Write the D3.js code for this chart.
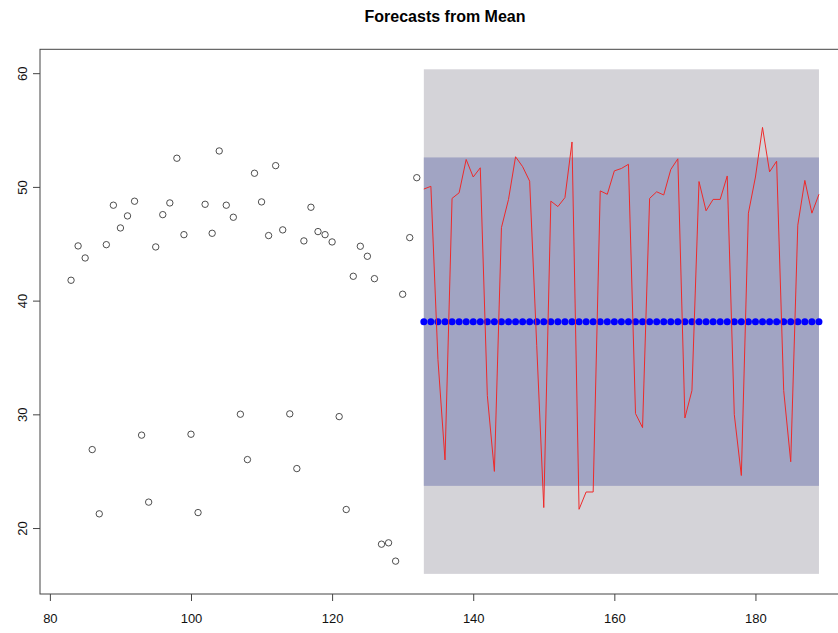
<!DOCTYPE html>
<html>
<head>
<meta charset="utf-8">
<title>Forecasts from Mean</title>
<script src="https://cdn.jsdelivr.net/npm/d3@7"></script>
<style>
  body { margin: 0; background: #ffffff; }
  svg { display: block; font-family: "Liberation Sans", Arial, Helvetica, sans-serif; }
</style>
</head>
<body>
<div id="chart"></div>
<script>
// ==========================================
// 1. DATA
// ==========================================

const title = "Forecasts from Mean";

// observed series (open circles), t = 83 ... 132
const obsStart = 83;
const obsValues = [
    41.79, 44.81, 43.75, 26.90, 21.25, 44.92, 48.39, 46.39, 47.45, 48.74,
    28.17, 22.28, 44.72, 47.56, 48.59, 52.52, 45.80, 28.25, 21.36, 48.47,
    45.92, 53.16, 48.39, 47.33, 30.01, 26.02, 51.20, 48.68, 45.72, 51.87,
    46.22, 30.04, 25.23, 45.25, 48.21, 46.07, 45.80, 45.16, 29.80, 21.63,
    42.14, 44.78, 43.90, 41.93, 18.58, 18.70, 17.09, 40.56, 45.54, 50.81
];

// test data (red line), t = 133 ... 189
const testStart = 133;
const testValues = [
    49.81, 50.05, 34.82, 25.99, 48.99, 49.48, 52.41, 50.87, 51.68, 31.65,
    24.98, 46.42, 48.90, 52.65, 51.78, 50.50, 36.04, 21.80, 48.75, 48.27,
    49.06, 53.95, 21.65, 23.17, 23.17, 49.65, 49.35, 51.41, 51.62, 51.99,
    30.07, 28.83, 48.99, 49.57, 49.29, 51.53, 52.47, 29.68, 32.10, 50.47,
    47.90, 48.90, 48.90, 50.96, 29.98, 24.62, 47.69, 50.87, 55.23, 51.32,
    52.26, 32.10, 25.83, 46.63, 50.57, 47.69, 49.35
];

// mean method: the point forecast is the same value over the whole horizon
const fcMean = 38.15;
const lo80 = 23.71, hi80 = 52.59;
const lo95 = 15.97, hi95 = 60.34;

const xTicks = [80, 100, 120, 140, 160, 180];
const yTicks = [20, 30, 40, 50, 60];


// ==========================================
// 2. SETUP
// ==========================================

const width = 838;
const height = 633;

// plot region (the right edge of the box falls outside the picture)
const box = { left: 40, top: 49.3, right: 850, bottom: 594 };

const obs = obsValues.map((v, i) => ({ t: obsStart + i, v: v }));
const test = testValues.map((v, i) => ({ t: testStart + i, v: v }));
const horizon = test.map(d => d.t);
const fc = horizon.map(t => ({ t: t, v: fcMean }));

const x = d3.scaleLinear().domain([78.6, 193.4]).range([box.left, box.right]);
const y = d3.scaleLinear().domain([14.2, 62.1]).range([box.bottom, box.top]);

const svg = d3.select("#chart").append("svg")
    .attr("width", width).attr("height", height);


// ==========================================
// 3. PREDICTION INTERVALS
// ==========================================

const t0 = d3.min(horizon), t1 = d3.max(horizon);

// 95% (grey)
svg.append("rect")
    .attr("x", x(t0)).attr("width", x(t1) - x(t0))
    .attr("y", y(hi95)).attr("height", y(lo95) - y(hi95))
    .attr("fill", "#d4d3d8");

// 80% (blue-grey)
svg.append("rect")
    .attr("x", x(t0)).attr("width", x(t1) - x(t0))
    .attr("y", y(hi80)).attr("height", y(lo80) - y(hi80))
    .attr("fill", "#a1a4c3");


// ==========================================
// 4. SERIES
// ==========================================

// point forecasts (filled blue dots)
svg.append("g").selectAll("circle")
    .data(fc).enter().append("circle")
    .attr("cx", d => x(d.t)).attr("cy", d => y(d.v))
    .attr("r", 3.5)
    .attr("fill", "#0000ff");

// test data (red line)
const line = d3.line().x(d => x(d.t)).y(d => y(d.v));
svg.append("path")
    .datum(test)
    .attr("d", line)
    .attr("fill", "none")
    .attr("stroke", "#ee2a2a")
    .attr("stroke-width", 1);

// observed series (open circles)
svg.append("g").selectAll("circle")
    .data(obs).enter().append("circle")
    .attr("cx", d => x(d.t)).attr("cy", d => y(d.v))
    .attr("r", 3.2)
    .attr("fill", "none")
    .attr("stroke", "#3a3a3a")
    .attr("stroke-width", 0.9);


// ==========================================
// 5. AXES, BOX, TITLE
// ==========================================

const xAxis = svg.append("g")
    .attr("transform", `translate(0,${box.bottom})`)
    .call(d3.axisBottom(x).tickValues(xTicks).tickFormat(d3.format("d"))
        .tickSize(7).tickSizeOuter(0).tickPadding(13));
xAxis.select(".domain").remove();
xAxis.selectAll("line").attr("stroke", "#444");
xAxis.selectAll("text")
    .style("font-size", "13px")
    .style("font-family", "'Liberation Sans', Arial, sans-serif")
    .attr("fill", "#111");

const yAxis = svg.append("g")
    .attr("transform", `translate(${box.left},0)`)
    .call(d3.axisLeft(y).tickValues(yTicks).tickFormat(d3.format("d"))
        .tickSize(7).tickSizeOuter(0));
yAxis.select(".domain").remove();
yAxis.selectAll("line").attr("stroke", "#444");
// R style: labels turned parallel to the axis
yAxis.selectAll("text")
    .attr("x", null).attr("dy", null)
    .attr("transform", "translate(-13.5,0) rotate(-90)")
    .attr("text-anchor", "middle")
    .style("font-size", "13px")
    .style("font-family", "'Liberation Sans', Arial, sans-serif")
    .attr("fill", "#111");

svg.append("rect")
    .attr("x", box.left).attr("y", box.top)
    .attr("width", box.right - box.left).attr("height", box.bottom - box.top)
    .attr("fill", "none")
    .attr("stroke", "#444")
    .attr("stroke-width", 1);

// title centred over the plot region
svg.append("text")
    .attr("x", (box.left + box.right) / 2)
    .attr("y", 22)
    .attr("text-anchor", "middle")
    .style("font-size", "16px")
    .style("font-weight", "bold")
    .attr("fill", "#000")
    .text(title);
</script>
</body>
</html>
